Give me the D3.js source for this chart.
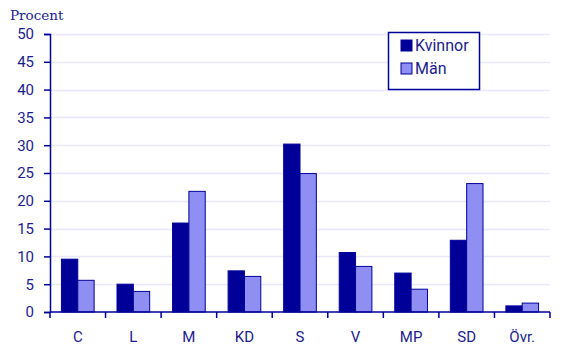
<!DOCTYPE html>
<html>
<head>
<meta charset="utf-8">
<script src="https://cdn.jsdelivr.net/npm/d3@7"></script>
<style>
  body { margin: 0; background: #fff; }
  svg { display: block; }
</style>
</head>
<body>
<div id="chart"></div>
<script>
// data
const categories = ['C', 'L', 'M', 'KD', 'S', 'V', 'MP', 'SD', 'Övr.'];
const seriesNames = ['Kvinnor', 'Män'];
const kvinnor = [9.5, 5.0, 16.0, 7.4, 30.2, 10.7, 7.0, 12.9, 1.1];
const man = [5.7, 3.7, 21.7, 6.4, 24.9, 8.2, 4.1, 23.1, 1.6];
const yTicks = [0, 5, 10, 15, 20, 25, 30, 35, 40, 45, 50];

const colors = ['#000099', '#8f8ff3'];
const ink = '#000099';
const textColor = '#1c1c8c';

const width = 572;
const height = 347;
const margin = { top: 34, right: 22, bottom: 35, left: 50 };
const plotW = width - margin.left - margin.right;
const plotH = height - margin.top - margin.bottom;

const svg = d3.select('#chart')
  .append('svg')
  .attr('width', width)
  .attr('height', height);

const g = svg.append('g')
  .attr('transform', `translate(${margin.left},${margin.top})`);

// scales
const x0 = d3.scaleBand()
  .domain(categories)
  .range([0, plotW])
  .padding(0);

const x1 = d3.scaleBand()
  .domain(seriesNames)
  .range([0, x0.bandwidth()])
  .paddingInner(0)
  .paddingOuter(0.7);

const y = d3.scaleLinear()
  .domain([0, 50])
  .range([plotH, 0]);

// gridlines
g.append('g')
  .selectAll('line')
  .data(yTicks.filter((d) => d > 0))
  .enter()
  .append('line')
  .attr('x1', 0)
  .attr('x2', plotW)
  .attr('y1', (d) => Math.round(y(d)) + 0.5)
  .attr('y2', (d) => Math.round(y(d)) + 0.5)
  .attr('stroke', '#e9e9fb')
  .attr('stroke-width', 1.5);

// bars
const rows = categories.map((c, i) => ({ cat: c, values: [kvinnor[i], man[i]] }));

const groups = g.selectAll('.grp')
  .data(rows)
  .enter()
  .append('g')
  .attr('class', 'grp')
  .attr('transform', (d) => `translate(${x0(d.cat)},0)`);

groups.selectAll('rect')
  .data((d) => d.values.map((v, j) => ({ name: seriesNames[j], v, j })))
  .enter()
  .append('rect')
  .attr('x', (d) => x1(d.name))
  .attr('y', (d) => y(d.v))
  .attr('width', x1.bandwidth())
  .attr('height', (d) => plotH - y(d.v))
  .attr('fill', (d) => colors[d.j])
  .attr('stroke', ink)
  .attr('stroke-width', 1);

// y axis
const yAxis = d3.axisLeft(y)
  .tickValues(yTicks)
  .tickSize(6)
  .tickPadding(10);

const yG = g.append('g').call(yAxis);
yG.select('.domain').attr('stroke', ink).attr('stroke-width', 1.5);
yG.selectAll('.tick line').attr('stroke', ink).attr('stroke-width', 1.5);
yG.selectAll('text')
  .attr('fill', textColor)
  .style('font-family', 'Roboto, sans-serif')
  .style('font-size', '15px');

// x axis: ticks at band boundaries
const xG = g.append('g')
  .attr('transform', `translate(0,${plotH})`);

xG.append('line')
  .attr('x1', 0)
  .attr('x2', plotW)
  .attr('stroke', ink)
  .attr('stroke-width', 1.5);

const bounds = categories.map((c) => x0(c)).concat([plotW]);
xG.selectAll('.xt')
  .data(bounds)
  .enter()
  .append('line')
  .attr('x1', (d) => d)
  .attr('x2', (d) => d)
  .attr('y1', 0)
  .attr('y2', 6)
  .attr('stroke', ink)
  .attr('stroke-width', 1.5);

xG.selectAll('.xl')
  .data(categories)
  .enter()
  .append('text')
  .attr('x', (d) => x0(d) + x0.bandwidth() / 2)
  .attr('y', 30)
  .attr('text-anchor', 'middle')
  .attr('fill', textColor)
  .style('font-family', 'Roboto, sans-serif')
  .style('font-size', '15px')
  .text((d) => d);

// y title
svg.append('text')
  .attr('x', 10)
  .attr('y', 20)
  .attr('fill', textColor)
  .style('font-family', '"DejaVu Serif", serif')
  .style('font-size', '13.5px')
  .text('Procent');

// legend
const legend = svg.append('g')
  .attr('transform', 'translate(388,32)');

legend.append('rect')
  .attr('x', 0.5)
  .attr('y', 0.5)
  .attr('width', 91)
  .attr('height', 57)
  .attr('fill', '#fff')
  .attr('stroke', ink)
  .attr('stroke-width', 1.5);

seriesNames.forEach((name, i) => {
  legend.append('rect')
    .attr('x', 13)
    .attr('y', 8 + i * 23)
    .attr('width', 11)
    .attr('height', 11)
    .attr('fill', colors[i])
    .attr('stroke', ink)
    .attr('stroke-width', 1);
  legend.append('text')
    .attr('x', 27)
    .attr('y', 19 + i * 23)
    .attr('fill', textColor)
    .style('font-family', 'Roboto, sans-serif')
    .style('font-size', '16px')
    .text(name);
});
</script>
</body>
</html>
